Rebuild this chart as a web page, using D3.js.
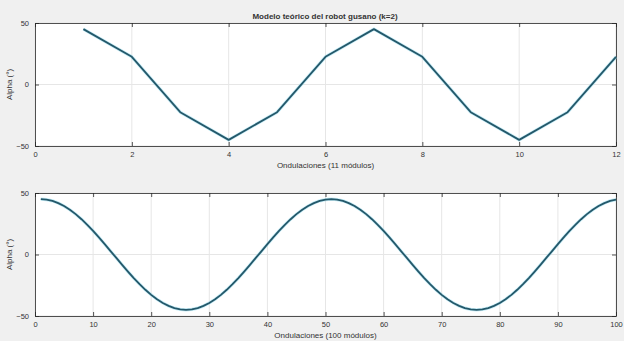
<!DOCTYPE html>
<html>
<head>
<meta charset="utf-8">
<script src="https://cdn.jsdelivr.net/npm/d3@7"></script>
<style>
  body { margin: 0; background: #f0f0f0; }
  svg { display: block; }
  text { font-family: "Liberation Sans", Arial, sans-serif; fill: #333; }
</style>
</head>
<body>
<div id="root"></div>
<script>
// data
const title = 'Modelo teórico del robot gusano (k=2)';
const yLabel = 'Alpha (°)';

const topX = [1, 2, 3, 4, 5, 6, 7, 8, 9, 10, 11, 12];
const topY = [45, 22.5, -22.5, -45, -22.5, 22.5, 45, 22.5, -22.5, -45, -22.5, 22.5];
const topXTicks = [0, 2, 4, 6, 8, 10, 12];
const topXLabel = 'Ondulaciones (11 módulos)';

const bottomY = [
  45.0, 44.6, 43.6, 41.8, 39.4, 36.4, 32.8, 28.7, 24.1, 19.2,
  13.9, 8.4, 2.8, -2.8, -8.4, -13.9, -19.2, -24.1, -28.7, -32.8,
  -36.4, -39.4, -41.8, -43.6, -44.6, -45.0, -44.6, -43.6, -41.8, -39.4,
  -36.4, -32.8, -28.7, -24.1, -19.2, -13.9, -8.4, -2.8, 2.8, 8.4,
  13.9, 19.2, 24.1, 28.7, 32.8, 36.4, 39.4, 41.8, 43.6, 44.6,
  45.0, 44.6, 43.6, 41.8, 39.4, 36.4, 32.8, 28.7, 24.1, 19.2,
  13.9, 8.4, 2.8, -2.8, -8.4, -13.9, -19.2, -24.1, -28.7, -32.8,
  -36.4, -39.4, -41.8, -43.6, -44.6, -45.0, -44.6, -43.6, -41.8, -39.4,
  -36.4, -32.8, -28.7, -24.1, -19.2, -13.9, -8.4, -2.8, 2.8, 8.4,
  13.9, 19.2, 24.1, 28.7, 32.8, 36.4, 39.4, 41.8, 43.6, 44.6
];
const bottomX = d3.range(1, bottomY.length + 1);
const bottomXTicks = [0, 10, 20, 30, 40, 50, 60, 70, 80, 90, 100];
const bottomXLabel = 'Ondulaciones (100 módulos)';

const yTicks = [-50, 0, 50];

const W = 624, H = 341;
const svg = d3.select('#root').append('svg')
  .attr('width', W)
  .attr('height', H);

function drawPanel(cfg) {
  const x = d3.scaleLinear().domain(cfg.xDomain).range([cfg.left, cfg.right]);
  const y = d3.scaleLinear().domain([-50, 50]).range([cfg.bottom, cfg.top]);
  const g = svg.append('g');

  g.append('rect')
    .attr('x', cfg.left).attr('y', cfg.top)
    .attr('width', cfg.right - cfg.left).attr('height', cfg.bottom - cfg.top)
    .attr('fill', '#fff');

  // grid
  g.selectAll('.vgrid').data(cfg.xTicks).enter().append('line')
    .attr('x1', d => x(d)).attr('x2', d => x(d))
    .attr('y1', cfg.top).attr('y2', cfg.bottom)
    .attr('stroke', '#e6e6e6').attr('stroke-width', 1);
  g.selectAll('.hgrid').data(yTicks).enter().append('line')
    .attr('x1', cfg.left).attr('x2', cfg.right)
    .attr('y1', d => y(d)).attr('y2', d => y(d))
    .attr('stroke', '#e6e6e6').attr('stroke-width', 1);

  // axes with inward ticks on all four sides
  const tl = 4;
  g.append('g').attr('transform', `translate(0,${cfg.bottom})`)
    .call(d3.axisBottom(x).tickValues(cfg.xTicks).tickSizeInner(-tl).tickSizeOuter(0).tickPadding(6));
  g.append('g').attr('transform', `translate(0,${cfg.top})`)
    .call(d3.axisTop(x).tickValues(cfg.xTicks).tickSizeInner(-tl).tickSizeOuter(0).tickFormat(''));
  g.append('g').attr('transform', `translate(${cfg.left},0)`)
    .call(d3.axisLeft(y).tickValues(yTicks).tickSizeInner(-tl).tickSizeOuter(0).tickPadding(6));
  g.append('g').attr('transform', `translate(${cfg.right},0)`)
    .call(d3.axisRight(y).tickValues(yTicks).tickSizeInner(-tl).tickSizeOuter(0).tickFormat(''));

  g.selectAll('.domain').attr('stroke', '#262626').attr('stroke-width', 0.8);
  g.selectAll('.tick line').attr('stroke', '#262626').attr('stroke-width', 0.8);
  g.selectAll('.tick text').attr('font-size', 7.5).attr('fill', '#333')
    .style('font-family', '"Liberation Sans", Arial, sans-serif');

  // line
  const line = d3.line().x(d => x(d[0])).y(d => y(d[1]));
  const pts = cfg.xs.map((v, i) => [v, cfg.ys[i]]);
  g.append('path').datum(pts)
    .attr('d', line)
    .attr('fill', 'none')
    .attr('stroke', '#8fdcef')
    .attr('stroke-width', 3.2)
    .attr('stroke-opacity', 0.5);
  g.append('path').datum(pts)
    .attr('d', line)
    .attr('fill', 'none')
    .attr('stroke', '#24586a')
    .attr('stroke-width', 1.8)
    .attr('stroke-linejoin', 'round');

  // labels
  g.append('text')
    .attr('x', (cfg.left + cfg.right) / 2).attr('y', cfg.bottom + 22)
    .attr('text-anchor', 'middle').attr('font-size', 8)
    .text(cfg.xLabel);
  g.append('text')
    .attr('transform', `translate(12,${(cfg.top + cfg.bottom) / 2}) rotate(-90)`)
    .attr('text-anchor', 'middle').attr('font-size', 8)
    .text(yLabel);
}

drawPanel({
  left: 35, right: 616, top: 23, bottom: 146,
  xDomain: [0, 12], xTicks: topXTicks, xs: topX, ys: topY, xLabel: topXLabel
});
drawPanel({
  left: 35, right: 616, top: 193, bottom: 316,
  xDomain: [0, 100], xTicks: bottomXTicks, xs: bottomX, ys: bottomY, xLabel: bottomXLabel
});

svg.append('text')
  .attr('x', 325).attr('y', 19)
  .attr('text-anchor', 'middle')
  .attr('font-size', 8).attr('font-weight', 'bold')
  .attr('fill', '#111')
  .text(title);
</script>
</body>
</html>
